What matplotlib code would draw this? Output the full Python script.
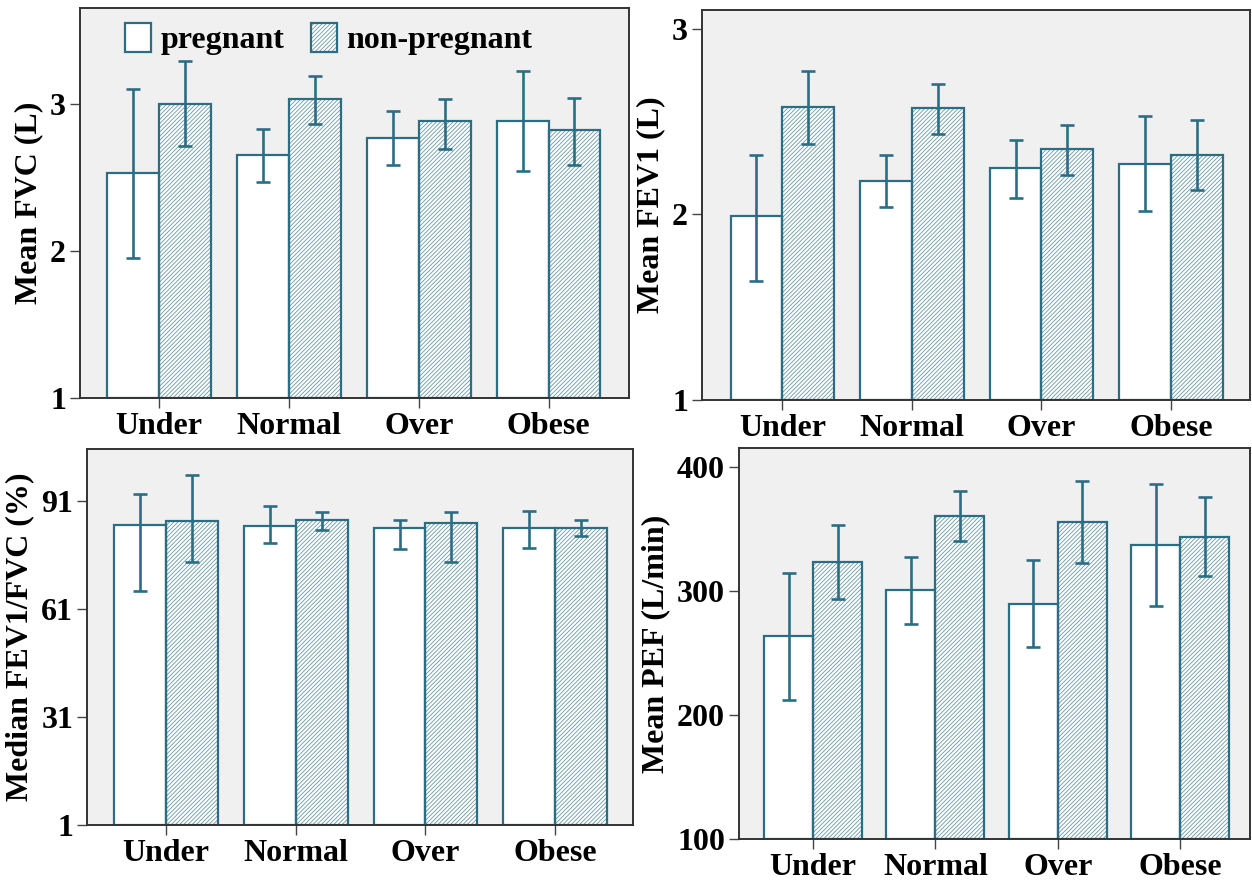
import matplotlib
matplotlib.use("Agg")
import matplotlib.pyplot as plt
from matplotlib.patches import Patch
import numpy as np

categories = ["Under", "Normal", "Over", "Obese"]
series = ["pregnant", "non-pregnant"]

fvc_preg = [2.53, 2.65, 2.77, 2.88]
fvc_preg_lo = [1.95, 2.47, 2.58, 2.54]
fvc_preg_hi = [3.10, 2.83, 2.95, 3.22]
fvc_non = [3.00, 3.03, 2.88, 2.82]
fvc_non_lo = [2.71, 2.86, 2.69, 2.58]
fvc_non_hi = [3.29, 3.19, 3.03, 3.04]

fev1_preg = [1.99, 2.18, 2.25, 2.27]
fev1_preg_lo = [1.64, 2.04, 2.09, 2.02]
fev1_preg_hi = [2.32, 2.32, 2.40, 2.53]
fev1_non = [2.58, 2.57, 2.35, 2.32]
fev1_non_lo = [2.38, 2.43, 2.21, 2.13]
fev1_non_hi = [2.77, 2.70, 2.48, 2.51]

ratio_preg = [84.3, 84.1, 83.5, 83.5]
ratio_preg_lo = [66.0, 79.3, 77.7, 78.0]
ratio_preg_hi = [92.9, 89.6, 85.7, 88.2]
ratio_non = [85.4, 85.7, 84.9, 83.5]
ratio_non_lo = [74.1, 82.9, 74.1, 81.3]
ratio_non_hi = [98.2, 87.9, 87.9, 85.7]

pef_preg = [263.7, 300.8, 289.5, 337.0]
pef_preg_lo = [212.0, 273.4, 254.8, 288.0]
pef_preg_hi = [314.5, 327.4, 325.0, 386.3]
pef_non = [323.4, 360.5, 355.6, 343.5]
pef_non_lo = [293.5, 340.3, 322.6, 312.0]
pef_non_hi = [353.0, 380.6, 388.7, 375.8]

TEAL = "#2b6e84"
HATCH = "#6a97a6"
BG = "#f0f0f0"
plt.rcParams["font.family"] = ["Liberation Serif", "DejaVu Serif"]
plt.rcParams["font.weight"] = "bold"
plt.rcParams["hatch.linewidth"] = 0.6

W, H = 1252, 884
fig = plt.figure(figsize=(W / 100, H / 100), dpi=100)
fig.patch.set_facecolor("white")

def ax_at(l, r, t, b):
    return fig.add_axes([l / W, 1 - b / H, (r - l) / W, (b - t) / H])

panels = [
    dict(box=(80, 629, 8, 398), ylabel="Mean FVC (L)", ylim=(1, 3.65), ticks=[1, 2, 3],
         xlim=(-0.61, 3.62),
         p=(fvc_preg, fvc_preg_lo, fvc_preg_hi), n=(fvc_non, fvc_non_lo, fvc_non_hi)),
    dict(box=(702, 1250, 10, 400), ylabel="Mean FEV1 (L)", ylim=(1, 3.10), ticks=[1, 2, 3],
         xlim=(-0.62, 3.61),
         p=(fev1_preg, fev1_preg_lo, fev1_preg_hi), n=(fev1_non, fev1_non_lo, fev1_non_hi)),
    dict(box=(87, 633, 449, 825), ylabel="Median FEV1/FVC (%)", ylim=(1, 105.4), ticks=[1, 31, 61, 91],
         xlim=(-0.61, 3.6),
         p=(ratio_preg, ratio_preg_lo, ratio_preg_hi), n=(ratio_non, ratio_non_lo, ratio_non_hi)),
    dict(box=(739, 1250, 448, 839), ylabel="Mean PEF (L/min)", ylim=(100, 415), ticks=[100, 200, 300, 400],
         xlim=(-0.605, 3.57),
         p=(pef_preg, pef_preg_lo, pef_preg_hi), n=(pef_non, pef_non_lo, pef_non_hi)),
]

x = np.arange(len(categories))
bw = 0.40
for i, pn in enumerate(panels):
    ax = ax_at(*pn["box"])
    ax.set_facecolor(BG)
    base = pn["ylim"][0]
    for k, (vals, lo, hi) in enumerate([pn["p"], pn["n"]]):
        vals = np.array(vals); lo = np.array(lo); hi = np.array(hi)
        xpos = x + (k - 0.5) * bw
        if k == 1:
            ax.bar(xpos, vals - base, bottom=base, width=bw, facecolor="white",
                   edgecolor=HATCH, linewidth=0, hatch="////////", zorder=2)
        ax.bar(xpos, vals - base, bottom=base, width=bw,
               facecolor="white" if k == 0 else "none",
               edgecolor=TEAL, linewidth=1.6, label=series[k], zorder=2.5)
        ax.errorbar(xpos, vals, yerr=[vals - lo, hi - vals], fmt="none", ecolor=TEAL,
                    elinewidth=1.9, capsize=5, capthick=1.9, zorder=3)
    ax.set_xlim(*pn["xlim"])
    ax.set_ylim(*pn["ylim"])
    ax.set_yticks(pn["ticks"])
    ax.set_xticks(x)
    ax.set_xticklabels(categories)
    ax.tick_params(axis="both", direction="out", length=7, width=1.0, color="#444444",
                   labelsize=23, pad=3)
    for lab in ax.get_xticklabels() + ax.get_yticklabels():
        lab.set_fontweight("bold")
    ax.set_ylabel(pn["ylabel"], fontsize=23, fontweight="bold", labelpad=5)
    for s in ax.spines.values():
        s.set_color("#333333")
        s.set_linewidth(1.4)
    if i == 0:
        h1 = Patch(facecolor="white", edgecolor=TEAL, linewidth=1.6)
        h2 = Patch(facecolor="white", edgecolor=HATCH, hatch="////////", linewidth=0)
        h2b = Patch(facecolor="none", edgecolor=TEAL, linewidth=1.6)
        ax.legend(handles=[h1, (h2, h2b)], labels=series, ncol=2, frameon=False,
                  loc="upper left", bbox_to_anchor=(0.03, 1.035), handlelength=0.8,
                  handleheight=1.0, handletextpad=0.3, columnspacing=0.85,
                  prop=dict(weight="bold", size=23))

fig.savefig("out.png", dpi=100)
